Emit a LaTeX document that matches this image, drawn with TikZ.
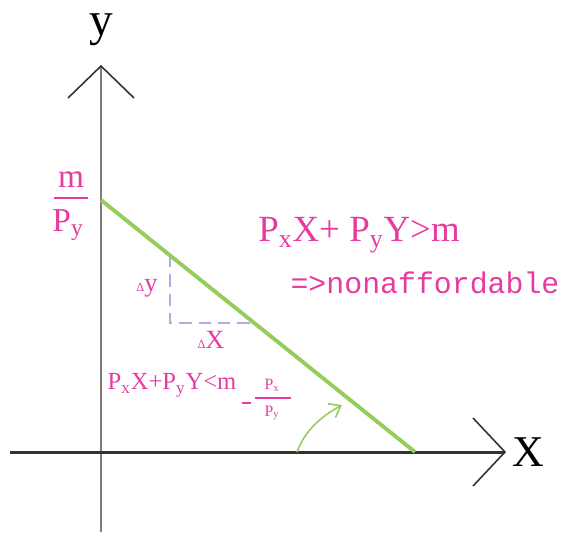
\documentclass[tikz,border=0pt]{standalone}
\usepackage{fontspec}
\setmainfont{Liberation Serif}
\newfontfamily\monofont{Liberation Mono}
\usetikzlibrary{arrows.meta,positioning,calc}
\definecolor{lblpink}{RGB}{230,60,160}
\definecolor{budgetgreen}{RGB}{150,205,90}
\definecolor{dashlilac}{RGB}{180,170,225}
\definecolor{axisgray}{RGB}{125,125,125}

\begin{document}
\begin{tikzpicture}[x=0.02cm, y=-0.02cm,
    axis/.style={line width=1.7pt},
    chev/.style={line width=0.9pt, black!80, line join=miter},
    lbl/.style={text=lblpink, inner sep=0pt, font=\fontsize{19}{19}\selectfont},
    small/.style={text=lblpink, inner sep=0pt, font=\fontsize{14}{14}\selectfont},
    budget/.style={line width=2.2pt, budgetgreen},
    guide/.style={line width=1.1pt, dashlilac, dash pattern=on 7pt off 4pt}
]
\useasboundingbox (0,0) rectangle (565,532);

% axes
\coordinate (o)    at (101,452);
\coordinate (ytop) at (101,66);
\coordinate (ybot) at (101,532);
\coordinate (xl)   at (10,452);
\coordinate (xr)   at (505,452);
\draw[axis, axisgray] (ybot) -- (ytop);
\draw[axis, black!80] (xl) -- (xr);
\draw[chev] ($(ytop)+(-33,32)$) -- (ytop) -- ($(ytop)+(33,32)$);
\draw[chev] ($(xr)+(-32,-34)$) -- (xr) -- ($(xr)+(-32,34)$);
\node[inner sep=0pt, font=\fontsize{27}{27}\selectfont] (ylab) at (101,30) {y};
\node[inner sep=0pt, font=\fontsize{25}{25}\selectfont] (xlab) at (528,452) {X};

% budget line and slope triangle
\coordinate (yint) at (101,200);
\coordinate (xint) at (415,452);
\coordinate (ta)   at (170,255);
\coordinate (tb)   at (170,323);
\coordinate (tc)   at (254,323);
\draw[guide] (ta) -- (tb) -- (tc);
\draw[budget] (yint) -- (xint);

% intercept m/Py
\node[lbl] (mnum) at (71,180) {m};
\node[lbl] (mden) at (68,225) {P\textsubscript{y}};
\draw[lblpink, line width=0.9pt] (54,198) -- (88,198);

% region labels
\node[lbl, font=\fontsize{21}{21}\selectfont] (above) at (359,235)
  {P\textsubscript{x}X+ P\textsubscript{y}Y>m};
\node[text=lblpink, inner sep=0pt, font=\monofont\fontsize{17}{17}\selectfont] (naff) at (425,283)
  {=>nonaffordable};
\node[small] (below) at (172,385)
  {P\textsubscript{x}X+P\textsubscript{y}Y<m};

% slope labels
\node[small, font=\fontsize{15}{15}\selectfont] (dy) at (147,288) {{\fontsize{7}{7}\selectfont Δ}y};
\node[small, font=\fontsize{15}{15}\selectfont] (dx) at (211,340) {{\fontsize{7}{7}\selectfont Δ}X};
\node[small, font=\fontsize{9}{9}\selectfont] (snum) at (272,385) {P\textsubscript{x}};
\node[small, font=\fontsize{9}{9}\selectfont] (sden) at (272,413) {P\textsubscript{y}};
\draw[lblpink, line width=0.9pt] (255,398) -- (291,398);
\draw[lblpink, line width=0.8pt] (242,403) -- (251,403);

% angle arrow
\coordinate (as) at (297,452);
\coordinate (ae) at (342,405);
\draw[budgetgreen, line width=0.9pt, -{Straight Barb[length=6pt, width=9pt]}]
  (as) .. controls (305,430) and (322,416) .. (ae);
\end{tikzpicture}
\end{document}
